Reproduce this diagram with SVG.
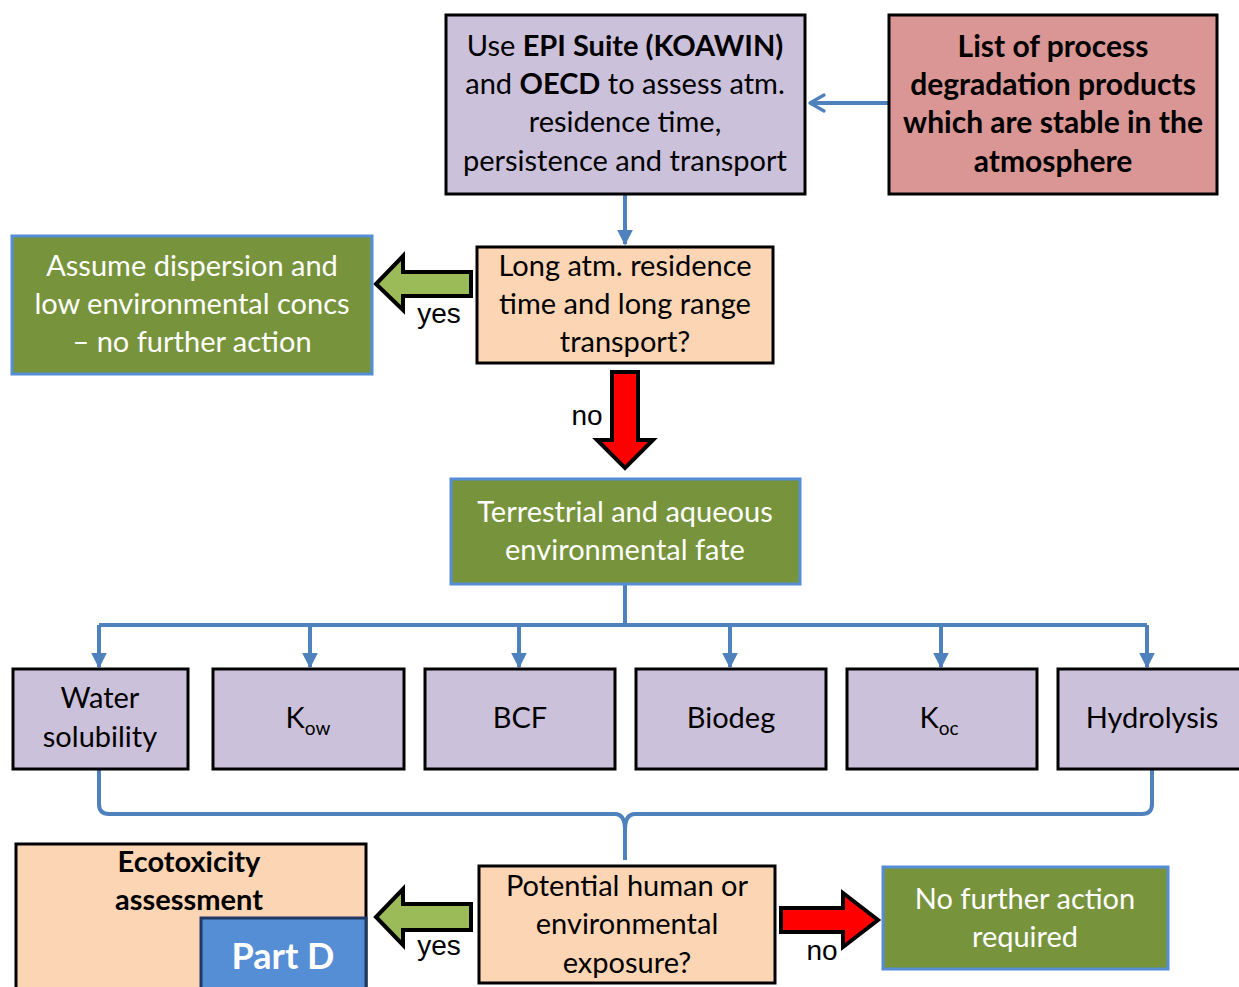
<svg xmlns="http://www.w3.org/2000/svg" width="1239" height="987" viewBox="0 0 1239 987">
  <defs>
    <style>
      .t { font-family: Lato, "Open Sans", "Liberation Sans", sans-serif; font-size: 29px; text-anchor: middle; fill: #000; }
      .w { fill: #fff; }
      .b { font-weight: bold; }
      .lbl { font-family: "Liberation Sans", Arial, sans-serif; font-size: 28px; text-anchor: middle; fill: #000; }
      .lav { fill: #ccc1da; stroke: #000; stroke-width: 3; }
      .peach { fill: #fcd5b5; stroke: #000; stroke-width: 3; }
      .grn { fill: #77933c; stroke: #558ed5; stroke-width: 3; }
      .conn { fill: none; stroke: #4f81bd; stroke-width: 4; }
      .garrow { fill: #9bbb59; stroke: #000; stroke-width: 4; stroke-linejoin: miter; }
      .rarrow { fill: #ff0000; stroke: #000; stroke-width: 4; stroke-linejoin: miter; }
    </style>
    <marker id="tri" viewBox="0 0 10 10" refX="9" refY="5" markerWidth="4" markerHeight="4" orient="auto" markerUnits="strokeWidth">
      <path d="M0,0 L10,5 L0,10 Z" fill="#4f81bd"/>
    </marker>
    <marker id="open" viewBox="0 0 10 10" refX="8" refY="5" markerWidth="5" markerHeight="5" orient="auto" markerUnits="strokeWidth">
      <path d="M1,1 L8,5 L1,9" fill="none" stroke="#4f81bd" stroke-width="1.6" stroke-linecap="round" stroke-linejoin="round"/>
    </marker>
  </defs>

  <!-- connectors -->
  <g id="connectors">
    <line class="conn" x1="889" y1="103" x2="810" y2="103" marker-end="url(#open)"/>
    <line class="conn" x1="625" y1="194" x2="625" y2="244" marker-end="url(#tri)"/>
    <path class="conn" d="M625,584 V625 M99,625 H1147"/>
    <line class="conn" x1="99" y1="625" x2="99" y2="667" marker-end="url(#tri)"/>
    <line class="conn" x1="310" y1="625" x2="310" y2="667" marker-end="url(#tri)"/>
    <line class="conn" x1="519" y1="625" x2="519" y2="667" marker-end="url(#tri)"/>
    <line class="conn" x1="730" y1="625" x2="730" y2="667" marker-end="url(#tri)"/>
    <line class="conn" x1="941" y1="625" x2="941" y2="667" marker-end="url(#tri)"/>
    <line class="conn" x1="1147" y1="625" x2="1147" y2="667" marker-end="url(#tri)"/>
    <!-- brace gathering the six properties -->
    <path class="conn" d="M99,770 V804 Q99,814 109,814 H615 Q625,814 625,830 V860 M1152,770 V804 Q1152,814 1142,814 H635 Q625,814 625,830"/>
    <!-- block arrows -->
    <path class="garrow" d="M471,272 H403 V256 L376,284 L403,310 V296 H471 Z"/>
    <path class="rarrow" d="M612,372 H638 V440 H653 L625,468 L597,440 H612 Z"/>
    <path class="garrow" d="M471,904 H403 V889 L376,917 L403,945 V930 H471 Z"/>
    <path class="rarrow" d="M781,908 H843 V893 L878,920 L843,947 V932 H781 Z"/>
    <text class="lbl" x="439" y="323">yes</text>
    <text class="lbl" x="587" y="425">no</text>
    <text class="lbl" x="439" y="955">yes</text>
    <text class="lbl" x="822" y="960">no</text>
  </g>

  <g id="epi">
    <rect class="lav" x="446" y="15" width="359" height="179"/>
    <text class="t" x="625" y="56">Use <tspan class="b">EPI Suite (KOAWIN)</tspan></text>
    <text class="t" x="625" y="94">and <tspan class="b">OECD</tspan> to assess atm.</text>
    <text class="t" x="625" y="132">residence time,</text>
    <text class="t" x="625" y="171">persistence and transport</text>
  </g>

  <g id="products">
    <rect x="889" y="15" width="328" height="179" fill="#d99694" stroke="#000" stroke-width="3"/>
    <text class="t b" x="1053" y="57" style="font-size:30px">List of process</text>
    <text class="t b" x="1053" y="95" style="font-size:30px">degradation products</text>
    <text class="t b" x="1053" y="133" style="font-size:30px">which are stable in the</text>
    <text class="t b" x="1053" y="172" style="font-size:30px">atmosphere</text>
  </g>

  <g id="longrange">
    <rect class="peach" x="477" y="247" width="296" height="116"/>
    <text class="t" x="625" y="276">Long atm. residence</text>
    <text class="t" x="625" y="314">time and long range</text>
    <text class="t" x="625" y="352">transport?</text>
  </g>

  <g id="dispersion">
    <rect class="grn" x="12" y="236" width="360" height="138"/>
    <text class="t w" x="192" y="276">Assume dispersion and</text>
    <text class="t w" x="192" y="314">low environmental concs</text>
    <text class="t w" x="192" y="352">– no further action</text>
  </g>

  <g id="fate">
    <rect class="grn" x="451" y="479" width="349" height="105"/>
    <text class="t w" x="625" y="522">Terrestrial and aqueous</text>
    <text class="t w" x="625" y="560">environmental fate</text>
  </g>

  <g id="water">
    <rect class="lav" x="13" y="669" width="175" height="100"/>
    <text class="t" x="100" y="708">Water</text>
    <text class="t" x="100" y="747">solubility</text>
  </g>
  <g id="kow">
    <rect class="lav" x="213" y="669" width="191" height="100"/>
    <text class="t" x="308" y="728">K<tspan style="font-size:19px" dy="7">ow</tspan></text>
  </g>
  <g id="bcf">
    <rect class="lav" x="425" y="669" width="190" height="100"/>
    <text class="t" x="520" y="728">BCF</text>
  </g>
  <g id="biodeg">
    <rect class="lav" x="636" y="669" width="190" height="100"/>
    <text class="t" x="731" y="728">Biodeg</text>
  </g>
  <g id="koc">
    <rect class="lav" x="847" y="669" width="190" height="100"/>
    <text class="t" x="939" y="728">K<tspan style="font-size:19px" dy="7">oc</tspan></text>
  </g>
  <g id="hydrolysis">
    <rect class="lav" x="1058" y="669" width="190" height="100"/>
    <text class="t" x="1152" y="728">Hydrolysis</text>
  </g>

  <g id="ecotox">
    <rect class="peach" x="16" y="844" width="350" height="150"/>
    <text class="t b" x="189" y="872">Ecotoxicity</text>
    <text class="t b" x="189" y="910">assessment</text>
    <rect x="201" y="918" width="165" height="76" fill="#558ed5" stroke="#1f3864" stroke-width="3"/>
    <text class="t b w" x="283" y="969" style="font-size:36px">Part D</text>
  </g>

  <g id="exposure">
    <rect class="peach" x="479" y="866" width="296" height="117"/>
    <text class="t" x="627" y="896">Potential human or</text>
    <text class="t" x="627" y="934">environmental</text>
    <text class="t" x="627" y="973">exposure?</text>
  </g>

  <g id="nofurther">
    <rect class="grn" x="883" y="867" width="285" height="102"/>
    <text class="t w" x="1025" y="909">No further action</text>
    <text class="t w" x="1025" y="947">required</text>
  </g>
</svg>
